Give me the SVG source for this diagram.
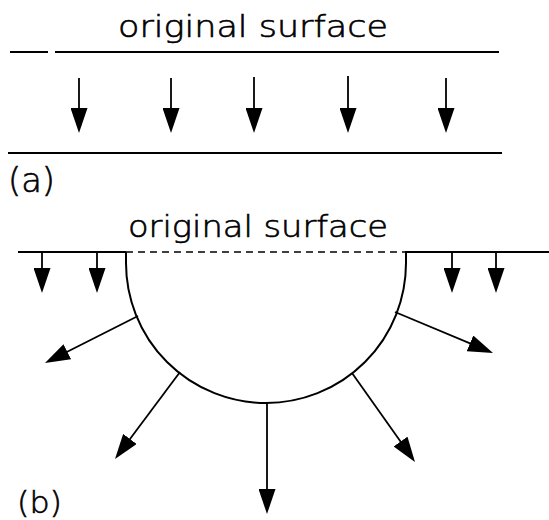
<svg xmlns="http://www.w3.org/2000/svg" width="549" height="520" viewBox="0 0 549 520">
<style>
.ln{stroke:#000;stroke-width:2;fill:none}
.ar{stroke:#000;stroke-width:1.8;fill:none;marker-end:url(#ah)}
.tx{font-family:"DejaVu Sans ExtraLight","DejaVu Sans","Liberation Sans",sans-serif;font-weight:200;fill:#000;stroke:#000;stroke-width:0.6}
</style>
<defs>
<marker id="ah" viewBox="0 0 25 17" refX="15" refY="8.5" markerWidth="25" markerHeight="17" markerUnits="userSpaceOnUse" orient="auto">
<path d="M0,0 L25,8.5 L0,17 z" fill="#000"/>
</marker>
</defs>
<rect width="549" height="520" fill="#fff"/>
<g id="panel-a">
<text class="tx" x="118" y="37" font-size="30" textLength="270" lengthAdjust="spacingAndGlyphs">original surface</text>
<line class="ln" x1="10" y1="52" x2="48" y2="52"/>
<line class="ln" x1="55" y1="52" x2="499" y2="52"/>
<line class="ln" x1="8" y1="153" x2="502" y2="153"/>
<text class="tx" x="8" y="192" font-size="34" textLength="47" lengthAdjust="spacingAndGlyphs">(a)</text>
</g>
<g id="connectors-a">
<line class="ar" x1="79" y1="78" x2="79" y2="123"/>
<line class="ar" x1="171" y1="78" x2="171" y2="123"/>
<line class="ar" x1="254" y1="77" x2="254" y2="123"/>
<line class="ar" x1="348" y1="76" x2="348" y2="123"/>
<line class="ar" x1="446" y1="78" x2="446" y2="123"/>
</g>
<g id="panel-b">
<text class="tx" x="128" y="237" font-size="30" textLength="260" lengthAdjust="spacingAndGlyphs">original surface</text>
<line class="ln" x1="18" y1="252" x2="126" y2="252"/>
<line class="ln" x1="405" y1="252" x2="549" y2="252"/>
<line x1="126" y1="252" x2="405" y2="252" stroke="#000" stroke-width="1.6" stroke-dasharray="7,5"/>
<path class="ln" d="M126,252 L126,263 A140,140 0 0 0 406,263 L406,252"/>
<text class="tx" x="17" y="513" font-size="31" textLength="45" lengthAdjust="spacingAndGlyphs">(b)</text>
</g>
<g id="connectors-b">
<line class="ar" x1="42" y1="252" x2="42" y2="283"/>
<line class="ar" x1="97" y1="252" x2="97" y2="283"/>
<line class="ar" x1="452" y1="252" x2="452" y2="283"/>
<line class="ar" x1="496" y1="252" x2="496" y2="283"/>
<line class="ar" x1="138" y1="316" x2="53.9" y2="358.5"/>
<line class="ar" x1="395" y1="312" x2="483.8" y2="349.1"/>
<line class="ar" x1="180" y1="372" x2="121" y2="451"/>
<line class="ar" x1="352" y1="373" x2="409.2" y2="453.8"/>
<line class="ar" x1="267" y1="403" x2="267" y2="504"/>
</g>
</svg>
